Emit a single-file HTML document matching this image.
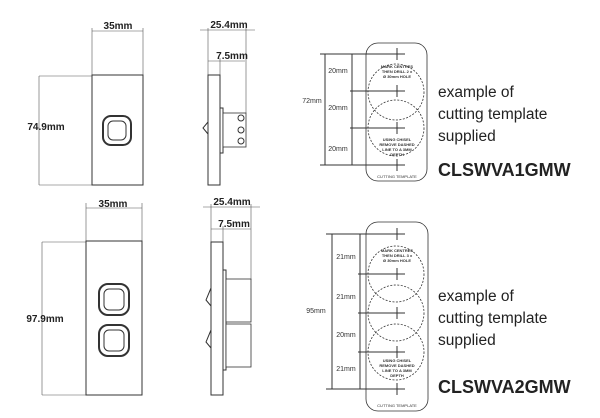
<!DOCTYPE html>
<html><head><meta charset="utf-8"><style>
html,body{margin:0;padding:0;background:#fff;}
svg{display:block;font-family:"Liberation Sans",sans-serif;}
</style></head><body>
<svg width="600" height="418" viewBox="0 0 600 418" xmlns="http://www.w3.org/2000/svg">
<g stroke="#555" stroke-width="0.6" fill="none">
 <!-- top front -->
 <line x1="92" y1="28" x2="92" y2="75"/><line x1="143" y1="28" x2="143" y2="75"/>
 <line x1="92" y1="31" x2="143" y2="31"/>
 <line x1="39" y1="76" x2="92" y2="76"/><line x1="39" y1="185" x2="92" y2="185"/>
 <line x1="39" y1="76" x2="39" y2="185"/>
 <!-- top side -->
 <line x1="200" y1="30" x2="255" y2="30"/><line x1="208" y1="28" x2="208" y2="75"/><line x1="246" y1="28" x2="246" y2="113"/>
 <line x1="208" y1="61" x2="245" y2="61"/><line x1="220" y1="58" x2="220" y2="75"/>
 <!-- bottom front -->
 <line x1="86" y1="203" x2="86" y2="242"/><line x1="142" y1="203" x2="142" y2="242"/>
 <line x1="86" y1="208" x2="142" y2="208"/>
 <line x1="42" y1="242" x2="86" y2="242"/><line x1="42" y1="395" x2="86" y2="395"/>
 <line x1="42" y1="242" x2="42" y2="395"/>
 <!-- bottom side -->
 <line x1="203" y1="207" x2="260" y2="207"/><line x1="211" y1="204" x2="211" y2="242"/><line x1="251" y1="204" x2="251" y2="280"/>
 <line x1="211" y1="229" x2="251" y2="229"/><line x1="223" y1="226" x2="223" y2="242"/>
</g>
<g stroke="#333" stroke-width="1" fill="#fff">
 <rect x="92" y="75" width="51" height="110"/>
 <rect x="103" y="116" width="28" height="29" rx="8" stroke-width="2"/>
 <rect x="108" y="121" width="18" height="19" rx="5"/>
 <rect x="208" y="75" width="12" height="110"/>
 <rect x="220" y="108" width="3" height="45"/>
 <rect x="223" y="113" width="23" height="34" stroke-width="0.8"/>
 <circle cx="241" cy="118" r="3"/><circle cx="241" cy="130" r="3"/><circle cx="241" cy="141" r="3"/>
 <path d="M208 122 L203 128 L208 134" fill="none"/>
 <rect x="86" y="241" width="56" height="154"/>
 <rect x="99" y="284" width="30" height="31" rx="9" stroke-width="2"/>
 <rect x="104" y="289" width="20" height="21" rx="5"/>
 <rect x="99" y="325" width="30" height="31" rx="9" stroke-width="2"/>
 <rect x="104" y="330" width="20" height="21" rx="5"/>
 <rect x="211" y="242" width="12" height="153"/>
 <rect x="223" y="270" width="3" height="100"/>
 <rect x="226" y="279" width="25" height="43" stroke-width="0.8"/>
 <rect x="226" y="324" width="25" height="43" stroke-width="0.8"/>
 <path d="M211 288 L206 300 L211 306 M211 330 L206 342 L211 348" fill="none"/>
</g>
<!-- templates -->
<g stroke="#333" fill="none">
 <rect x="366" y="43" width="61" height="138" rx="12" stroke-width="0.8"/>
 <circle cx="396" cy="92" r="28" stroke-dasharray="2,1.5" stroke-width="0.8"/>
 <circle cx="396" cy="128" r="28" stroke-dasharray="2,1.5" stroke-width="0.8"/>
 <g stroke-width="1"><line x1="320" y1="54" x2="405" y2="54"/><line x1="350" y1="91" x2="405" y2="91"/><line x1="350" y1="128" x2="405" y2="128"/><line x1="320" y1="165" x2="405" y2="165"/>
 <line x1="325" y1="54" x2="325" y2="165"/><line x1="352" y1="54" x2="352" y2="165"/>
 <line x1="397" y1="48" x2="397" y2="60"/><line x1="397" y1="85" x2="397" y2="97"/><line x1="397" y1="122" x2="397" y2="134"/><line x1="397" y1="159" x2="397" y2="171"/></g>
 <rect x="366" y="222" width="62" height="189" rx="12" stroke-width="0.8"/>
 <circle cx="396" cy="274" r="28" stroke-dasharray="2,1.5" stroke-width="0.8"/>
 <circle cx="396" cy="313" r="28" stroke-dasharray="2,1.5" stroke-width="0.8"/>
 <circle cx="396" cy="352" r="28" stroke-dasharray="2,1.5" stroke-width="0.8"/>
 <g stroke-width="1"><line x1="326" y1="234" x2="405" y2="234"/><line x1="358" y1="274" x2="405" y2="274"/><line x1="358" y1="313" x2="405" y2="313"/><line x1="358" y1="352" x2="405" y2="352"/><line x1="326" y1="389" x2="405" y2="389"/>
 <line x1="332" y1="234" x2="332" y2="389"/><line x1="360" y1="234" x2="360" y2="389"/>
 <line x1="397" y1="228" x2="397" y2="240"/><line x1="397" y1="268" x2="397" y2="280"/><line x1="397" y1="307" x2="397" y2="319"/><line x1="397" y1="346" x2="397" y2="358"/><line x1="397" y1="383" x2="397" y2="395"/></g>
</g>
<g fill="#222" font-size="10" text-anchor="middle">
 <text x="118" y="29" font-weight="bold">35mm</text>
 <text x="46" y="130" font-weight="bold">74.9mm</text>
 <text x="229" y="28" font-weight="bold">25.4mm</text>
 <text x="232" y="59" font-weight="bold">7.5mm</text>
 <text x="113" y="207" font-weight="bold">35mm</text>
 <text x="45" y="322" font-weight="bold">97.9mm</text>
 <text x="232" y="205" font-weight="bold">25.4mm</text>
 <text x="234" y="227" font-weight="bold">7.5mm</text>
</g>
<g fill="#333" font-size="7" text-anchor="middle">
 <text x="338" y="73">20mm</text><text x="338" y="110">20mm</text><text x="338" y="151">20mm</text>
 <text x="312" y="103">72mm</text>
 <text x="346" y="259">21mm</text><text x="346" y="299">21mm</text><text x="346" y="337">20mm</text><text x="346" y="371">21mm</text>
 <text x="316" y="313">95mm</text>
</g>
<g fill="#333" font-size="4" text-anchor="middle" font-weight="bold">
 <text x="397" y="68">MARK CENTRES</text><text x="397" y="73">THEN DRILL 2 x</text><text x="397" y="78">Ø 30mm HOLE</text>
 <text x="397" y="141">USING CHISEL</text><text x="397" y="146">REMOVE DASHED</text><text x="397" y="151">LINE TO A 3MM</text><text x="397" y="156">DEPTH</text>
 <text x="397" y="178" font-weight="normal">CUTTING TEMPLATE</text>
 <text x="397" y="252">MARK CENTRES</text><text x="397" y="257">THEN DRILL 3 x</text><text x="397" y="262">Ø 30mm HOLE</text>
 <text x="397" y="362">USING CHISEL</text><text x="397" y="367">REMOVE DASHED</text><text x="397" y="372">LINE TO A 3MM</text><text x="397" y="377">DEPTH</text>
 <text x="397" y="407" font-weight="normal">CUTTING TEMPLATE</text>
</g>
<g fill="#222" font-size="15.5">
 <text x="438" y="97">example of</text><text x="438" y="119">cutting template</text><text x="438" y="141">supplied</text>
 <text x="438" y="176" font-size="18" font-weight="bold">CLSWVA1GMW</text>
 <text x="438" y="301">example of</text><text x="438" y="323">cutting template</text><text x="438" y="345">supplied</text>
 <text x="438" y="393" font-size="18" font-weight="bold">CLSWVA2GMW</text>
</g>
</svg>
</body></html>
